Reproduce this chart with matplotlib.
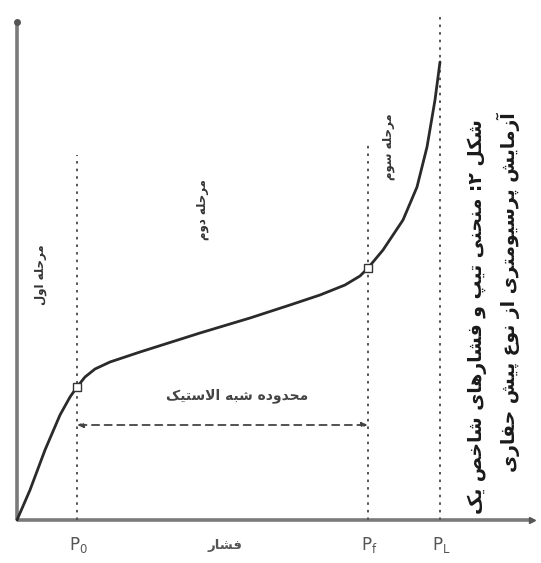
import matplotlib
matplotlib.use("Agg")
import matplotlib.pyplot as plt

plt.rcParams['font.family'] = ['DejaVu Sans']

# ---------------- data ----------------
pressure = [0.0, 1.3, 2.8, 4.3, 5.3, 6.0, 6.8, 7.8, 9.3, 12.3, 18.3, 23.3, 27.3,
            30.3, 32.8, 34.3, 35.1, 36.6, 38.6, 40.0, 41.0, 41.8, 42.3]
volume = [0.0, 3.0, 7.0, 10.5, 12.3, 13.3, 14.3, 15.1, 15.8, 16.8, 18.7, 20.2, 21.5,
          22.5, 23.5, 24.4, 25.2, 27.0, 30.0, 33.3, 37.3, 42.0, 45.8]
P0, Pf, PL = 6.0, 35.1, 42.3
marker_p = [P0, Pf]
marker_v = [13.3, 25.2]
vline_tops = [36.5, 37.7, 50.5]
tick_labels = [r'$\mathregular{P_0}$', r'$\mathregular{P_f}$', r'$\mathregular{P_L}$']
x_label = 'فشار'
stage_labels = ['مرحله اول', 'مرحله دوم', 'مرحله سوم']
range_label = 'محدوده شبه الاستیک'
caption = ['شکل ۲: منحنی تیپ و فشارهای شاخص یک', 'آزمایش پرسیومتری از نوع پیش حفاری']

# ---------------- minimal Persian shaping ----------------
FORMS = {
    'ا': ('\uFE8D', '\uFE8E', None, None),
    'آ': ('\uFE81', '\uFE82', None, None),
    'ب': ('\uFE8F', '\uFE90', '\uFE91', '\uFE92'),
    'پ': ('\uFB56', '\uFB57', '\uFB58', '\uFB59'),
    'ت': ('\uFE95', '\uFE96', '\uFE97', '\uFE98'),
    'ح': ('\uFEA1', '\uFEA2', '\uFEA3', '\uFEA4'),
    'خ': ('\uFEA5', '\uFEA6', '\uFEA7', '\uFEA8'),
    'د': ('\uFEA9', '\uFEAA', None, None),
    'ر': ('\uFEAD', '\uFEAE', None, None),
    'ز': ('\uFEAF', '\uFEB0', None, None),
    'س': ('\uFEB1', '\uFEB2', '\uFEB3', '\uFEB4'),
    'ش': ('\uFEB5', '\uFEB6', '\uFEB7', '\uFEB8'),
    'ص': ('\uFEB9', '\uFEBA', '\uFEBB', '\uFEBC'),
    'ض': ('\uFEBD', '\uFEBE', '\uFEBF', '\uFEC0'),
    'ع': ('\uFEC9', '\uFECA', '\uFECB', '\uFECC'),
    'ف': ('\uFED1', '\uFED2', '\uFED3', '\uFED4'),
    'ل': ('\uFEDD', '\uFEDE', '\uFEDF', '\uFEE0'),
    'م': ('\uFEE1', '\uFEE2', '\uFEE3', '\uFEE4'),
    'ن': ('\uFEE5', '\uFEE6', '\uFEE7', '\uFEE8'),
    'ه': ('\uFEE9', '\uFEEA', '\uFEEB', '\uFEEC'),
    'و': ('\uFEED', '\uFEEE', None, None),
    'ی': ('\uFBFC', '\uFBFD', '\uFBFE', '\uFBFF'),
    'ک': ('\uFB8E', '\uFB8F', '\uFB90', '\uFB91'),
}


def dual(c):
    return c in FORMS and FORMS[c][2] is not None


def shape(s):
    out = []
    i = 0
    n = len(s)
    while i < n:
        c = s[i]
        prev = s[i - 1] if i > 0 else None
        nxt = s[i + 1] if i < n - 1 else None
        if c not in FORMS:
            out.append(c)
            i += 1
            continue
        jp = dual(prev) if prev is not None else False
        if c == 'ل' and nxt == 'ا':
            out.append('\uFEFC' if jp else '\uFEFB')
            i += 2
            continue
        f = FORMS[c]
        nn = nxt is not None and nxt in FORMS and f[2] is not None
        if jp and nn:
            g = f[3]
        elif jp:
            g = f[1]
        elif nn:
            g = f[2]
        else:
            g = f[0]
        out.append(g)
        i += 1
    return ''.join(out)[::-1]


# ---------------- figure ----------------
fig = plt.figure(figsize=(5.41, 5.63), dpi=100)
ax = fig.add_axes([0, 0, 1, 1])
ax.set_xlim(-1.7, 52.4)
ax.set_ylim(-4.3, 52.0)
ax.axis('off')

axis_col = '#7a7a7a'
# axes
ax.plot([0, 0], [0, 49.8], color=axis_col, lw=2.6, solid_capstyle='butt', zorder=2)
ax.plot([0, 51.5], [0, 0], color=axis_col, lw=2.6, solid_capstyle='butt', zorder=2)
ax.plot([0], [49.8], marker='o', ms=4, color='#555555', zorder=3)
ax.plot([51.5], [0], marker='>', ms=4, color='#555555', zorder=3)

# dotted vertical lines
for p, top in zip([P0, Pf, PL], vline_tops):
    ax.plot([p, p], [0, top], color='#555555', lw=1.4, ls=(0, (1.3, 2.6)), zorder=2)

# curve
ax.plot(pressure, volume, color='#2a2a2a', lw=2.0, zorder=4,
        solid_joinstyle='round', solid_capstyle='round')
ax.plot(marker_p, marker_v, ls='none', marker='s', ms=6, mfc='white',
        mec='#333333', mew=1.0, zorder=5)

# pseudo-elastic range arrow
ax.annotate('', xy=(Pf, 9.5), xytext=(P0, 9.5),
            arrowprops=dict(arrowstyle='<|-|>,head_length=0.35,head_width=0.15',
                            color='#444444', lw=1.3, ls=(0, (4, 3)),
                            shrinkA=0, shrinkB=0))
ax.text(22.0, 12.4, shape(range_label), fontsize=10, color='#444444',
        ha='center', va='center', fontweight='bold')

# stage labels
stage_pos = [(2.4, 24.5), (18.6, 31.0), (37.2, 37.3)]
for lab, (x, y) in zip(stage_labels, stage_pos):
    ax.text(x, y, shape(lab), fontsize=8.5, rotation=90, color='#333333',
            ha='center', va='center', fontweight='bold', rotation_mode='anchor')

# tick labels
for p, lab in zip([P0, Pf, PL], tick_labels):
    ax.text(p + 0.1, -2.5, lab, fontsize=12, color='#555555', ha='center', va='center')
ax.text(20.8, -2.6, shape(x_label), fontsize=9.5, color='#555555', ha='center',
        va='center', fontweight='bold')

# caption (rotated)
cap_pos = [(46.0, 20.3), (49.1, 22.8)]
for lab, (x, y) in zip(caption, cap_pos):
    ax.text(x, y, shape(lab), fontsize=13.5, rotation=90, color='#1a1a1a',
            ha='center', va='center', fontweight='bold', rotation_mode='anchor')

fig.savefig('out.png', dpi=100)
